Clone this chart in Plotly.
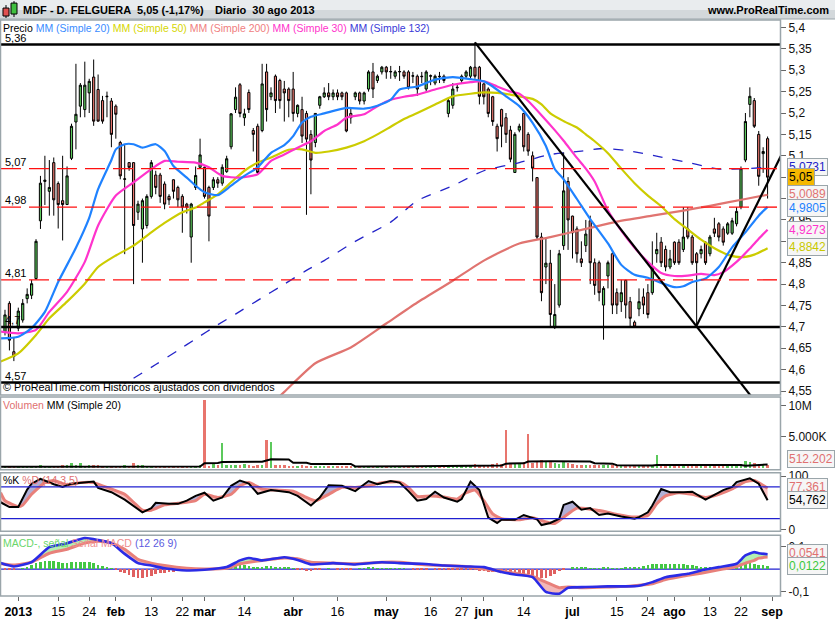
import numpy as np
import plotly.graph_objects as go

# ======================= DATA =======================
bar_index = list(range(-3, 170))          # trading-day index, 0 = 2 ene 2013

opens = [4.689,4.755,4.642,4.697,4.716,4.766,4.774,4.813,4.948,5.040,
         5.017,5.084,5.035,4.995,4.986,5.094,5.179,5.216,5.208,5.247,
         5.284,5.255,5.229,5.238,5.228,5.216,5.131,5.045,5.084,5.084,
         4.968,4.929,4.937,5.005,5.055,5.055,5.034,5.005,5.044,5.026,
         5.005,4.987,4.910,5.026,5.073,5.073,5.026,5.026,5.044,5.036,
         5.063,5.121,5.208,5.266,5.189,5.248,5.159,5.169,5.159,5.296,
         5.238,5.286,5.276,5.256,5.256,5.256,5.199,5.208,5.199,5.150,
         5.131,5.218,5.238,5.247,5.238,5.247,5.247,5.247,5.199,5.238,
         5.247,5.228,5.256,5.296,5.276,5.296,5.307,5.296,5.286,5.296,
         5.296,5.296,5.286,5.286,5.286,5.256,5.286,5.270,5.286,5.286,
         5.199,5.218,5.259,5.276,5.286,5.286,5.307,5.307,5.268,5.256,
         5.238,5.169,5.208,5.189,5.160,5.061,5.160,5.199,5.150,5.100,
         5.049,4.910,4.840,4.849,4.700,4.751,4.890,5.040,4.959,4.929,
         4.859,4.890,4.948,4.850,4.850,4.751,4.819,4.871,4.780,4.759,
         4.809,4.759,4.711,4.742,4.770,4.780,4.780,4.871,4.898,4.881,
         4.840,4.898,4.898,4.881,4.929,4.910,4.871,4.871,4.898,4.871,
         4.929,4.941,4.929,4.919,4.919,4.941,4.980,5.090,5.220,5.229,
         5.150,5.105,5.140]
highs = [4.74,4.76,4.675,4.745,4.765,4.79,4.81,4.905,5.053,5.10,
         5.09,5.096,5.04,5.10,5.075,5.175,5.315,5.27,5.32,5.28,
         5.325,5.29,5.24,5.25,5.235,5.22,5.135,5.125,5.085,5.085,
         4.995,5.0,5.01,5.09,5.065,5.06,5.04,5.01,5.045,5.03,
         5.01,4.99,4.99,5.075,5.14,5.075,5.03,5.05,5.05,5.08,
         5.10,5.20,5.26,5.27,5.21,5.255,5.165,5.175,5.315,5.315,
         5.26,5.29,5.28,5.275,5.26,5.296,5.22,5.238,5.205,5.16,
         5.20,5.24,5.26,5.27,5.255,5.255,5.25,5.25,5.21,5.25,
         5.25,5.25,5.30,5.317,5.29,5.31,5.31,5.31,5.30,5.31,
         5.30,5.30,5.296,5.29,5.296,5.30,5.29,5.29,5.296,5.29,
         5.235,5.27,5.27,5.29,5.30,5.31,5.365,5.31,5.27,5.26,
         5.24,5.175,5.21,5.20,5.17,5.155,5.175,5.20,5.155,5.11,
         5.05,4.92,4.91,4.88,4.80,4.88,5.108,5.05,4.96,4.935,
         4.90,4.95,4.96,4.86,4.855,4.795,4.855,4.875,4.79,4.81,
         4.81,4.77,4.715,4.79,4.79,4.80,4.90,4.92,4.91,4.89,
         4.88,4.90,4.905,4.98,4.98,4.915,4.875,4.89,4.90,4.915,
         4.955,4.945,4.935,4.945,4.955,4.98,5.075,5.20,5.26,5.235,
         5.158,5.12,5.145]
lows = [4.68,4.645,4.62,4.69,4.71,4.755,4.765,4.81,4.929,4.985,
        4.96,4.96,4.93,4.902,4.985,5.09,5.115,5.19,5.19,5.20,
        5.17,5.18,5.175,5.19,5.12,5.14,5.045,4.87,5.065,4.80,
        4.95,4.85,4.93,5.0,5.01,4.99,4.975,4.985,5.0,4.98,
        4.92,4.965,4.85,5.02,5.07,5.0,4.90,5.02,5.025,5.03,
        5.06,5.115,5.20,5.19,5.17,5.20,5.11,5.055,5.155,5.18,
        5.23,5.20,5.21,5.18,5.19,5.18,5.19,5.13,4.962,5.01,
        5.12,5.21,5.235,5.23,5.23,5.23,5.23,5.155,5.175,5.23,
        5.22,5.22,5.25,5.235,5.27,5.29,5.28,5.28,5.28,5.275,
        5.28,5.255,5.27,5.24,5.27,5.25,5.265,5.265,5.27,5.27,
        5.19,5.21,5.25,5.27,5.28,5.28,5.28,5.22,5.22,5.19,
        5.17,5.11,5.12,5.13,5.085,5.06,5.155,5.11,5.10,5.04,
        4.905,4.76,4.80,4.70,4.695,4.745,4.88,4.88,4.86,4.85,
        4.84,4.875,4.80,4.775,4.76,4.67,4.79,4.73,4.73,4.735,
        4.72,4.70,4.70,4.725,4.73,4.72,4.775,4.85,4.84,4.83,
        4.835,4.845,4.845,4.875,4.905,4.845,4.70,4.86,4.845,4.865,
        4.91,4.90,4.89,4.915,4.915,4.935,4.975,5.085,5.19,5.165,
        5.03,5.06,5.00]
closes = [4.728,4.669,4.631,4.737,4.755,4.776,4.801,4.900,5.036,5.043,
          5.026,4.997,4.986,4.986,5.053,5.169,5.197,5.265,5.265,5.274,
          5.181,5.181,5.181,5.239,5.150,5.197,5.053,5.046,5.073,4.937,
          4.987,4.995,5.005,5.084,5.026,5.005,4.987,4.997,5.017,4.997,
          4.980,4.980,4.987,5.054,5.102,5.005,4.959,5.044,5.036,5.073,
          5.093,5.198,5.237,5.199,5.198,5.208,5.150,5.061,5.268,5.208,
          5.247,5.229,5.229,5.247,5.229,5.199,5.218,5.146,5.139,5.090,
          5.199,5.238,5.247,5.238,5.247,5.238,5.238,5.158,5.189,5.247,
          5.228,5.247,5.296,5.256,5.286,5.307,5.296,5.297,5.296,5.297,
          5.286,5.259,5.287,5.256,5.285,5.296,5.287,5.286,5.285,5.276,
          5.229,5.256,5.260,5.286,5.296,5.307,5.286,5.239,5.238,5.199,
          5.180,5.140,5.169,5.150,5.092,5.150,5.169,5.121,5.111,5.071,
          4.910,4.780,4.849,4.729,4.729,4.871,5.018,4.950,4.920,4.871,
          4.850,4.917,4.850,4.797,4.780,4.790,4.850,4.751,4.751,4.780,
          4.751,4.720,4.700,4.759,4.751,4.729,4.840,4.881,4.850,4.840,
          4.859,4.850,4.850,4.910,4.910,4.850,4.850,4.881,4.850,4.910,
          4.919,4.910,4.898,4.941,4.948,4.970,5.070,5.180,5.239,5.169,
          5.052,5.110,5.050]

# volume, millions of shares
volume_m = [0.25,0.3,0.2,0.15,0.2,0.18,0.2,0.22,0.4,0.3,
            0.25,0.2,0.18,0.35,0.4,0.8,0.4,0.7,0.3,0.35,
            0.4,0.35,0.3,0.2,0.25,0.2,0.3,0.35,0.3,0.8,
            0.4,0.35,0.3,0.3,0.2,0.2,0.18,0.15,0.2,0.18,
            0.2,0.22,0.25,0.3,0.35,10.9,0.3,0.6,0.4,3.9,
            0.4,0.45,0.35,0.4,0.6,0.4,0.3,0.5,0.4,4.4,
            4.2,0.4,0.4,0.35,0.3,0.3,0.25,0.35,0.3,0.3,
            0.25,0.2,0.2,0.18,0.2,0.2,0.25,0.3,0.25,0.2,
            0.2,0.25,0.3,0.3,0.25,0.3,0.25,0.2,0.2,0.2,
            0.25,0.3,0.3,0.3,0.25,0.3,0.25,0.2,0.2,0.25,
            0.5,0.35,0.3,0.3,0.35,0.4,0.6,0.5,0.4,0.5,
            0.6,0.7,0.6,6.1,0.7,0.8,0.6,0.9,5.5,0.8,
            0.9,1.3,1.1,0.9,0.8,0.6,0.9,0.7,0.6,0.5,
            0.45,0.4,0.5,0.4,0.35,0.4,0.4,0.35,0.3,0.3,
            0.35,0.3,0.35,0.3,0.3,0.35,0.5,2.0,0.4,0.35,
            0.3,0.3,0.4,0.35,0.4,0.35,0.4,0.3,0.3,0.35,
            0.3,0.3,0.35,0.3,0.35,0.4,0.6,1.0,0.9,0.7,
            0.6,0.5,0.45]
vol_ma_x = [-4,41,42,45,46,55,56,57,61,62,65,66,75,76,90,102,109,110,114,115,120,129,130,134,135,143,144,163,164,169]
vol_ma_y = [0.15,0.18,0.72,0.75,0.92,0.95,1.15,1.35,1.33,0.8,0.78,0.6,0.6,0.2,0.25,0.3,0.35,0.65,0.7,1.0,1.05,1.0,0.72,0.65,0.4,0.35,0.42,0.42,0.33,0.512]

# moving averages
ma20_x = [-4,0,3,6,9,13,16,18,21,22,24,26,28,31,33,35,38,40,42,45,48,51,54,57,60,62,64,66,69,74,
          78,81,84,86,90,94,98,102,105,107,110,113,116,119,121,123,126,129,133,136,139,142,145,148,150,
          152,155,158,161,164,167,169]
ma20_y = [4.673,4.677,4.697,4.735,4.805,4.885,4.955,5.022,5.090,5.115,5.127,5.127,5.119,5.127,5.111,
          5.076,5.049,5.030,5.015,5.008,5.030,5.053,5.073,5.107,5.125,5.146,5.178,5.191,5.199,5.212,
          5.210,5.217,5.231,5.255,5.262,5.278,5.284,5.279,5.274,5.262,5.239,5.216,5.177,5.123,5.069,
          5.045,4.999,4.952,4.895,4.845,4.822,4.815,4.803,4.793,4.795,4.805,4.813,4.840,4.886,4.921,
          4.960,4.9805]
ma30_x = [-4,0,4,7,11,15,18,22,26,30,33,36,40,43,46,50,54,57,60,63,66,69,72,74,78,81,84,87,90,94,
          98,102,105,108,111,113,115,118,121,123,126,128,130,133,136,139,142,145,148,151,154,157,159,
          162,165,167,169]
ma30_y = [4.689,4.685,4.693,4.735,4.782,4.852,4.937,5.007,5.038,5.069,5.088,5.086,5.084,5.073,5.053,
          5.049,5.057,5.088,5.103,5.119,5.134,5.158,5.173,5.189,5.197,5.216,5.231,5.238,5.243,5.255,
          5.266,5.272,5.274,5.262,5.250,5.245,5.228,5.195,5.160,5.135,5.095,5.070,5.040,4.972,4.925,
          4.885,4.852,4.826,4.819,4.820,4.824,4.821,4.828,4.852,4.883,4.906,4.927]
ma50_x = [-4,0,4,7,11,15,18,22,26,30,33,37,40,42,45,48,51,54,57,61,64,67,70,74,78,81,84,87,90,94,
          98,102,105,108,111,113,116,118,120,123,126,128,130,133,136,139,142,145,148,151,154,157,160,
          163,166,169]
ma50_y = [4.619,4.638,4.681,4.720,4.759,4.801,4.840,4.867,4.890,4.921,4.943,4.968,4.979,4.991,5.010,
          5.038,5.065,5.084,5.096,5.114,5.115,5.107,5.110,5.119,5.134,5.150,5.168,5.186,5.200,5.220,
          5.239,5.245,5.248,5.247,5.243,5.239,5.233,5.220,5.199,5.181,5.166,5.150,5.134,5.106,5.070,
          5.036,5.007,4.982,4.952,4.928,4.904,4.884,4.869,4.863,4.869,4.884]
ma200_x = [55,60,67,75,83,90,98,105,113,120,128,135,143,150,156,164,169]
ma200_y = [4.50,4.548,4.615,4.652,4.708,4.757,4.808,4.855,4.895,4.910,4.929,4.946,4.960,4.972,4.983,4.999,5.009]
ma132_x = [26,31,36,40,45,49,54,60,65,69,76,84,90,98,105,113,120,127,132,138,145,153,158,164,169]
ma132_y = [4.580,4.612,4.645,4.672,4.705,4.730,4.762,4.800,4.832,4.855,4.900,4.945,4.995,5.030,5.065,
           5.084,5.103,5.111,5.117,5.111,5.097,5.080,5.069,5.070,5.073]

# drawn objects on the price panel
levels_solid = [5.36, 4.70, 4.57]
levels_dash = [5.07, 4.98, 4.81]
level_labels = {5.36: "5,36", 5.07: "5,07", 4.98: "4,98", 4.81: "4,81", 4.70: "4,7", 4.57: "4,57"}
trend_down_x, trend_down_y = [103, 165.5], [5.365, 4.535]
trend_up_x, trend_up_y = [153, 172.5], [4.703, 5.11]

# stochastic (14,3,5)
stk_x = [-4,-2,0,2,3,5,8,10,12,15,17,18,21,24,26,28,30,31,34,36,38,40,42,44,46,48,50,52,54,57,61,63,66,68,
         70,73,76,79,81,84,86,88,90,92,94,96,99,100,102,104,106,108,109,112,114,117,118,120,122,123,125,
         127,129,131,133,136,139,140,142,143,145,147,150,152,155,157,159,161,162,165,167,169]
stk_y = [51,42,42,75,86,95,85,80,86,88,90,78,70,56,44,32,40,50,48,48,54,63,69,54,60,82,92,86,67,74,70,63,
         45,60,83,82,72,91,85,91,88,72,54,57,71,60,52,57,90,74,22,12,18,18,27,19,8,12,20,46,52,37,40,27,
         30,24,20,23,32,45,76,70,70,71,56,65,74,80,89,96,86,54.762]
std_x = [-4,-3,0,1,3,6,8,11,14,17,19,21,24,26,28,30,33,36,40,42,45,48,50,52,55,58,62,65,67,70,73,76,79,82,
         86,88,90,93,96,99,101,103,105,107,109,113,116,119,121,124,126,129,132,135,139,142,144,146,149,
         152,155,158,161,164,166,169]
std_y = [69,54,43,46,66,88,92,84,88,88,82,76,66,51,36,36,46,49,54,66,60,66,82,88,76,74,72,60,54,66,79,79,
         82,88,89,79,62,63,61,57,69,74,54,29,20,18,22,14,11,29,40,38,34,28,23,26,48,63,69,66,60,66,76,90,
         92,77.361]

# MACD (12 26 9)
macd_x = [-4,-1,3,7,11,15,18,21,24,27,30,33,38,42,47,50,52,55,60,63,66,71,76,82,86,91,96,101,105,109,
          112,116,119,122,124,128,133,137,140,143,146,151,154,158,162,164,166,167,169]
macd_y = [0.027,0.012,0.031,0.098,0.116,0.139,0.130,0.116,0.068,0.027,0.016,0.004,-0.006,-0.003,0.009,
          0.039,0.050,0.039,0.053,0.041,0.021,0.027,0.021,0.031,0.027,0.024,0.016,0.012,0.009,-0.013,
          -0.024,-0.036,-0.102,-0.110,-0.083,-0.080,-0.077,-0.077,-0.074,-0.058,-0.036,-0.021,-0.006,
          0.009,0.024,0.061,0.076,0.071,0.0663]
sig_y = [0.024,0.018,0.031,0.071,0.089,0.116,0.124,0.116,0.089,0.044,0.027,0.016,0.004,0.001,0.004,
         0.024,0.031,0.039,0.050,0.046,0.031,0.027,0.024,0.031,0.031,0.021,0.016,0.012,0.001,-0.009,
         -0.018,-0.033,-0.058,-0.083,-0.080,-0.083,-0.080,-0.077,-0.072,-0.065,-0.047,-0.028,-0.018,
         -0.003,0.012,0.027,0.039,0.049,0.0541]
macd_hist = [-0.003,-0.004,-0.003,0.0,0.003,0.008,0.015,0.025,0.032,0.036,
             0.037,0.033,0.030,0.028,0.027,0.030,0.032,0.032,0.030,0.030,
             0.025,0.018,0.012,0.006,0.002,-0.005,-0.012,-0.020,-0.028,-0.035,
             -0.040,-0.041,-0.038,-0.032,-0.025,-0.020,-0.017,-0.014,-0.012,-0.010,
             -0.008,-0.006,-0.004,-0.002,0.0,-0.002,-0.004,-0.003,-0.001,0.002,
             0.008,0.015,0.020,0.022,0.018,0.014,0.010,0.008,0.010,0.012,
             0.012,0.010,0.008,0.006,0.004,0.002,-0.002,-0.006,-0.009,-0.009,
             -0.006,-0.002,0.0,0.001,0.0,-0.001,-0.002,-0.003,-0.002,0.0,
             0.002,0.003,0.004,0.004,0.003,0.003,0.002,0.002,0.002,0.001,
             0.001,0.0,-0.002,-0.003,-0.003,-0.001,0.0,-0.001,-0.003,-0.003,
             -0.003,-0.002,-0.002,-0.001,-0.002,-0.004,-0.006,-0.008,-0.011,-0.013,
             -0.014,-0.015,-0.016,-0.015,-0.014,-0.016,-0.020,-0.022,-0.025,-0.030,
             -0.036,-0.041,-0.040,-0.033,-0.022,-0.010,-0.003,0.0,0.004,0.006,
             0.006,0.005,0.003,0.001,0.002,0.004,0.004,0.003,0.002,0.003,
             0.004,0.004,0.006,0.008,0.012,0.016,0.020,0.022,0.023,0.022,
             0.021,0.022,0.023,0.020,0.018,0.015,0.012,0.010,0.009,0.008,
             0.007,0.008,0.010,0.012,0.015,0.022,0.028,0.030,0.026,0.022,
             0.018,0.015,0.0122]

tick_pos = [0, 9, 16, 22, 30, 37, 42, 51, 62, 72, 83, 93, 100, 105, 114, 125, 135, 142, 148, 156, 163, 170]
tick_lbl = ["<b>2013</b>", "15", "24", "<b>feb</b>", "13", "22", "<b>mar</b>", "14", "<b>abr</b>", "16",
            "<b>may</b>", "16", "27", "<b>jun</b>", "14", "<b>jul</b>", "15", "24", "<b>ago</b>", "13", "22",
            "<b>sep</b>"]

# ======================= STYLE / LAYOUT =======================
W, H = 835, 620
ML, MR, MT, MB = 1, 55, 20, 21
PW, PH = W - ML - MR, H - MT - MB


def fx(X):
    return (X - ML) / PW


def fy(Y):
    return (H - MB - Y) / PH


C_GREEN = "#5cc95c"
C_RED = "#e8756d"
C_MA20 = "#1f82ff"
C_MA50 = "#cccc00"
C_MA200 = "#e07470"
C_MA30 = "#ff33cc"
C_MA132 = "#2323c8"
C_FRAME = "#9aa5aa"
FONT = "Arial, Liberation Sans, sans-serif"

fig = go.Figure()

# ---- price panel ----
fig.add_trace(go.Candlestick(
    x=bar_index, open=opens, high=highs, low=lows, close=closes,
    increasing=dict(fillcolor=C_GREEN, line=dict(color="black", width=1)),
    decreasing=dict(fillcolor=C_RED, line=dict(color="black", width=1)),
    whiskerwidth=0, hoverinfo="skip", xaxis="x", yaxis="y"))

for xs, ys, col, w, dash in [(ma200_x, ma200_y, C_MA200, 2.2, "solid"),
                             (ma132_x, ma132_y, C_MA132, 1.3, "10px,10px"),
                             (ma50_x, ma50_y, C_MA50, 2.2, "solid"),
                             (ma30_x, ma30_y, C_MA30, 2.2, "solid"),
                             (ma20_x, ma20_y, C_MA20, 2.2, "solid")]:
    fig.add_trace(go.Scatter(x=xs, y=ys, mode="lines", line=dict(color=col, width=w, dash=dash, shape="spline", smoothing=0.6),
                             hoverinfo="skip", xaxis="x", yaxis="y"))

for xs, ys in [(trend_down_x, trend_down_y), (trend_up_x, trend_up_y)]:
    fig.add_trace(go.Scatter(x=xs, y=ys, mode="lines", line=dict(color="black", width=2.2),
                             hoverinfo="skip", xaxis="x", yaxis="y"))

# ---- volume panel ----
vol_cols = [C_GREEN if c >= o else C_RED for o, c in zip(opens, closes)]
fig.add_trace(go.Bar(x=bar_index, y=volume_m, marker=dict(color=vol_cols, line=dict(width=0)), width=0.55,
                     hoverinfo="skip", xaxis="x", yaxis="y2"))
fig.add_trace(go.Scatter(x=vol_ma_x, y=vol_ma_y, mode="lines", line=dict(color="black", width=2),
                         hoverinfo="skip", xaxis="x", yaxis="y2"))


# ---- fills between two lines with two colours ----
def split_band(xa, ya, xb, yb):
    xs = np.array(sorted(set(xa) | set(xb)), dtype=float)
    a = np.interp(xs, xa, ya)
    b = np.interp(xs, xb, yb)
    X, A, B = [xs[0]], [a[0]], [b[0]]
    for i in range(1, len(xs)):
        d0, d1 = a[i - 1] - b[i - 1], a[i] - b[i]
        if d0 * d1 < 0:
            t = d0 / (d0 - d1)
            xc = xs[i - 1] + t * (xs[i] - xs[i - 1])
            yc = a[i - 1] + t * (a[i] - a[i - 1])
            X.append(xc); A.append(yc); B.append(yc)
        X.append(xs[i]); A.append(a[i]); B.append(b[i])
    up, dn = ([], []), ([], [])
    n = len(X)
    s0 = 0
    while s0 < n - 1:
        j = s0 + 1
        while j < n - 1 and A[j] != B[j]:
            j += 1
        seg = list(range(s0, j + 1))
        tot = sum(A[k] - B[k] for k in seg)
        tgt = up if tot > 0 else dn
        tgt[0].extend([X[k] for k in seg] + [X[k] for k in reversed(seg)] + [None])
        tgt[1].extend([A[k] for k in seg] + [B[k] for k in reversed(seg)] + [None])
        s0 = j
    return up, dn


# ---- stochastic panel ----
up, dn = split_band(stk_x, stk_y, std_x, std_y)
fig.add_trace(go.Scatter(x=up[0], y=up[1], fill="toself", fillcolor="rgba(150,150,200,0.75)", mode="none",
                         hoverinfo="skip", xaxis="x", yaxis="y3"))
fig.add_trace(go.Scatter(x=dn[0], y=dn[1], fill="toself", fillcolor="rgba(245,175,175,0.75)", mode="none",
                         hoverinfo="skip", xaxis="x", yaxis="y3"))
fig.add_trace(go.Scatter(x=std_x, y=std_y, mode="lines", line=dict(color="#e8807a", width=3, shape="spline", smoothing=0.5),
                         hoverinfo="skip", xaxis="x", yaxis="y3"))
fig.add_trace(go.Scatter(x=stk_x, y=stk_y, mode="lines", line=dict(color="black", width=2),
                         hoverinfo="skip", xaxis="x", yaxis="y3"))

# ---- MACD panel ----
hist_cols = ["#44c844" if v >= 0 else "#e06060" for v in macd_hist]
fig.add_trace(go.Bar(x=bar_index, y=macd_hist, marker=dict(color=hist_cols, line=dict(width=0)), width=0.6,
                     hoverinfo="skip", xaxis="x", yaxis="y4"))
up, dn = split_band(macd_x, macd_y, macd_x, sig_y)
fig.add_trace(go.Scatter(x=up[0], y=up[1], fill="toself", fillcolor="rgba(160,235,160,0.8)", mode="none",
                         hoverinfo="skip", xaxis="x", yaxis="y4"))
fig.add_trace(go.Scatter(x=dn[0], y=dn[1], fill="toself", fillcolor="rgba(240,165,165,0.8)", mode="none",
                         hoverinfo="skip", xaxis="x", yaxis="y4"))
fig.add_trace(go.Scatter(x=macd_x, y=sig_y, mode="lines", line=dict(color="#e8807a", width=3, shape="spline", smoothing=0.5),
                         hoverinfo="skip", xaxis="x", yaxis="y4"))
fig.add_trace(go.Scatter(x=macd_x, y=macd_y, mode="lines", line=dict(color="#2b2be6", width=2.6, shape="spline", smoothing=0.5),
                         hoverinfo="skip", xaxis="x", yaxis="y4"))

# ---- shapes ----
shapes = []
for lv in levels_solid:
    shapes.append(dict(type="line", xref="x domain", yref="y", x0=0, x1=1, y0=lv, y1=lv,
                       line=dict(color="black", width=2.5), layer="above"))
for lv in levels_dash:
    shapes.append(dict(type="line", xref="x domain", yref="y", x0=0, x1=1, y0=lv, y1=lv,
                       line=dict(color="#ff1010", width=1.4, dash="20px,8px"), layer="above"))
for lv in [80, 20]:
    shapes.append(dict(type="line", xref="x domain", yref="y3", x0=0, x1=1, y0=lv, y1=lv,
                       line=dict(color="#2020d0", width=1.2), layer="above"))
shapes.append(dict(type="line", xref="x domain", yref="y4", x0=0, x1=1, y0=0, y1=0,
                   line=dict(color="#2020d0", width=1.2), layer="below"))

panels = [(20, 397), (399, 472), (475, 534), (538, 599)]
for top, bot in panels:
    shapes.append(dict(type="rect", xref="paper", yref="paper", x0=fx(0.5), x1=fx(780.5), y0=fy(bot), y1=fy(top),
                       line=dict(color=C_FRAME, width=1.5), fillcolor="rgba(0,0,0,0)", layer="above"))
# header bar
shapes.append(dict(type="rect", xref="paper", yref="paper", x0=fx(0), x1=fx(835), y0=fy(10), y1=fy(0),
                   line=dict(width=0), fillcolor="#e9ecee", layer="above"))
shapes.append(dict(type="rect", xref="paper", yref="paper", x0=fx(0), x1=fx(835), y0=fy(19), y1=fy(10),
                   line=dict(width=0), fillcolor="#d3d8db", layer="above"))
shapes.append(dict(type="line", xref="paper", yref="paper", x0=fx(0), x1=fx(835), y0=fy(19), y1=fy(19),
                   line=dict(color=C_FRAME, width=1), layer="above"))
# header icon
shapes.append(dict(type="line", xref="paper", yref="paper", x0=fx(6), x1=fx(6), y0=fy(18), y1=fy(5),
                   line=dict(color="black", width=1), layer="above"))
shapes.append(dict(type="rect", xref="paper", yref="paper", x0=fx(3), x1=fx(9), y0=fy(16), y1=fy(8),
                   line=dict(color="black", width=1), fillcolor="#e05050", layer="above"))
shapes.append(dict(type="line", xref="paper", yref="paper", x0=fx(14), x1=fx(14), y0=fy(17), y1=fy(1),
                   line=dict(color="black", width=1), layer="above"))
shapes.append(dict(type="rect", xref="paper", yref="paper", x0=fx(11), x1=fx(17), y0=fy(14), y1=fy(3),
                   line=dict(color="black", width=1), fillcolor="#40c040", layer="above"))

# ---- annotations ----
ann = []


def text(X, Y, s, size=11, color="black", anchor="left", bold=False, **kw):
    if bold:
        s = "<b>" + s + "</b>"
    ann.append(dict(xref="paper", yref="paper", x=fx(X), y=fy(Y), text=s, showarrow=False,
                    xanchor=anchor, yanchor="middle", font=dict(family=FONT, size=size, color=color), **kw))


text(21, 10, "MDF - D. FELGUERA", 11, bold=True)
text(135, 10, "5,05 (-1,17%)", 11, bold=True)
text(213, 10, "Diario  30 ago 2013", 11, bold=True)
text(831, 10, "www.ProRealTime.com", 11, anchor="right", bold=True)
text(1, 28, "Precio <span style='color:%s'>MM (Simple 20)</span> <span style='color:#d6d600'>MM (Simple 50)</span> "
            "<span style='color:#f08080'>MM (Simple 200)</span> <span style='color:%s'>MM (Simple 30)</span> "
            "<span style='color:#3a3ad8'>MM (Simple 132)</span>" % ("#3a8cff", C_MA30), 10.5)
text(1, 389, "© ProRealTime.com Históricos ajustados con dividendos", 10.8)
text(1, 407, "<span style='color:#e07070'>Volumen</span> MM (Simple 20)", 10.5)
text(1, 482, "%K <span style='color:#e07070'>%D (14,3,5)</span>", 10.5)
text(1, 546, "<span style='color:#6ad66a'>MACD-, señal </span><span style='color:#ef8f8f'>Señal MACD</span>"
             "<span style='color:#5a5ae0'> (12 26 9)</span>", 10.5)

for lv, s in level_labels.items():
    ann.append(dict(xref="paper", yref="y", x=fx(3), y=lv, text=s, showarrow=False, xanchor="left",
                    yanchor="bottom", yshift=-1, font=dict(family=FONT, size=11, color="black")))

boxes = [(168, "5,0731", C_MA132, "#f6f6f6"), (178, "5,05", "black", "#f5b800"),
         (195, "5,0089", C_MA200, "#f6f6f6"), (209, "4,9805", C_MA20, "#f6f6f6"),
         (231, "4,9273", C_MA30, "#f6f6f6"), (248, "4,8842", "#c8c800", "#f6f6f6"),
         (461, "512.202", "#e07070", "#f6f6f6"), (489, "77,361", "#e07070", "#f6f6f6"),
         (502, "54,762", "black", "#f6f6f6"), (556, "0,0541", "#e07070", "#f6f6f6"),
         (569, "0,0122", "#3cc83c", "#f6f6f6")]
for Y, s, col, bg in boxes:
    ann.append(dict(xref="paper", yref="paper", x=fx(787), y=fy(Y), text=s, showarrow=False, xanchor="left",
                    yanchor="middle", bgcolor=bg, bordercolor=C_FRAME, borderwidth=1, borderpad=1,
                    font=dict(family=FONT, size=12, color=col)))

price_ticks = [round(4.55 + 0.05 * i, 2) for i in range(18)]
hidden_price_ticks = [5.05, 5.0, 4.9]       # covered by the value boxes on the reference


def comma(v):
    if v in hidden_price_ticks:
        return ""
    s = ("%.2f" % v).rstrip("0").rstrip(".")
    return s.replace(".", ",")


axis_common = dict(side="right", anchor="x", showgrid=False, zeroline=False, ticks="outside", ticklen=5,
                   tickcolor="#666", tickfont=dict(family=FONT, size=12, color="#111"), showline=False,
                   fixedrange=True)

fig.update_layout(
    width=W, height=H,
    margin=dict(l=ML, r=MR, t=MT, b=MB, pad=0),
    paper_bgcolor="white", plot_bgcolor="white",
    showlegend=False, hovermode=False, bargap=0,
    font=dict(family=FONT, size=12, color="black"),
    xaxis=dict(range=[-3.9, 171.8], anchor="y4", showgrid=False, zeroline=False, ticks="outside", ticklen=4,
               tickcolor="#666", tickvals=tick_pos, ticktext=tick_lbl,
               tickfont=dict(family=FONT, size=12.5, color="black"), rangeslider=dict(visible=False),
               showline=False, fixedrange=True),
    yaxis=dict(domain=[fy(397), fy(20)], range=[4.5407, 5.4174], tickvals=price_ticks,
               ticktext=[comma(v) for v in price_ticks], **axis_common),
    yaxis2=dict(domain=[fy(472), fy(399)], range=[-0.32, 11.4], tickvals=[5, 10],
                ticktext=["5.000K", "10M"], **axis_common),
    yaxis3=dict(domain=[fy(534), fy(475)], range=[-3.8, 106.8], tickvals=[0, 100],
                ticktext=["0", "100"], **axis_common),
    yaxis4=dict(domain=[fy(599), fy(538)], range=[-0.12, 0.151], tickvals=[-0.1, 0.1],
                ticktext=["-0,1", "0,1"], **axis_common),
    shapes=shapes, annotations=ann,
)

fig.write_html("out.html", post_script="document.body.style.margin='0';")
